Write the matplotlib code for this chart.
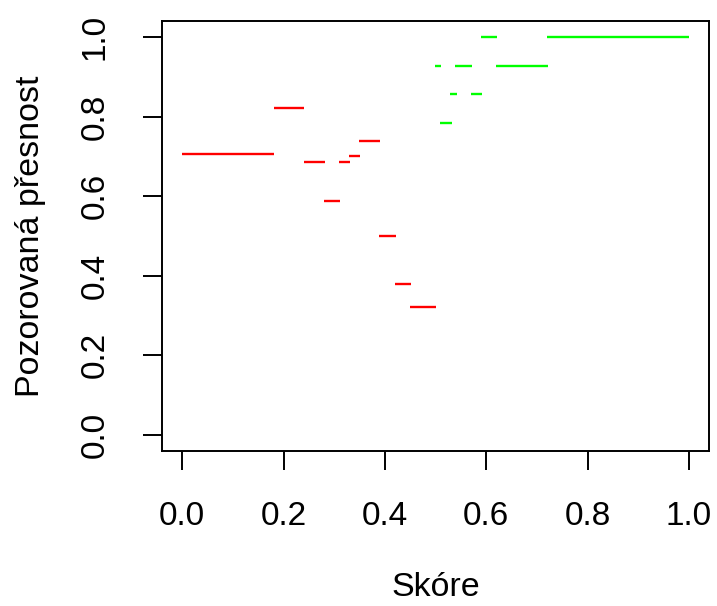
import numpy as np
import matplotlib
matplotlib.use("Agg")
import matplotlib.pyplot as plt

# red bins (score interval -> observed precision)
red_start = [0.0, 0.181, 0.240, 0.280, 0.310, 0.330, 0.349, 0.389, 0.419, 0.449]
red_end = [0.181, 0.241, 0.282, 0.312, 0.332, 0.351, 0.391, 0.422, 0.452, 0.501]
red_prec = [0.705, 0.823, 0.686, 0.587, 0.686, 0.700, 0.740, 0.500, 0.379, 0.321]

# green bins
green_start = [0.498, 0.509, 0.528, 0.539, 0.569, 0.589, 0.619, 0.720]
green_end = [0.511, 0.532, 0.542, 0.572, 0.591, 0.621, 0.721, 1.0]
green_prec = [0.928, 0.785, 0.857, 0.928, 0.857, 1.0, 0.928, 1.0]

ticks = [0.0, 0.2, 0.4, 0.6, 0.8, 1.0]
tick_labels = ["0.0", "0.2", "0.4", "0.6", "0.8", "1.0"]

plt.rcParams['font.family'] = ['Liberation Sans', 'DejaVu Sans']

fig = plt.figure(figsize=(7.17, 6.06), dpi=100)
ax = fig.add_axes([0.226, 0.256, 0.763, 0.709])

ax.hlines(red_prec, red_start, red_end, colors='#ff0000', linewidth=1.7)
ax.hlines(green_prec, green_start, green_end, colors='#00ff00', linewidth=1.7)

ax.set_xlim(-0.04, 1.04)
ax.set_ylim(-0.04, 1.04)
ax.set_xticks(ticks)
ax.set_xticklabels(tick_labels)
ax.set_yticks(ticks)
ax.set_yticklabels(tick_labels, rotation=90, va='center')

for s in ax.spines.values():
    s.set_linewidth(1.4)
ax.tick_params(direction='out', length=14, width=1.4, labelsize=24, pad=22)
ax.tick_params(axis='y', pad=23)

ax.set_xlabel("Skóre", fontsize=24.5, labelpad=29)
ax.set_ylabel("Pozorovaná přesnost", fontsize=24.5, labelpad=24)

fig.savefig("out.png", dpi=100)
